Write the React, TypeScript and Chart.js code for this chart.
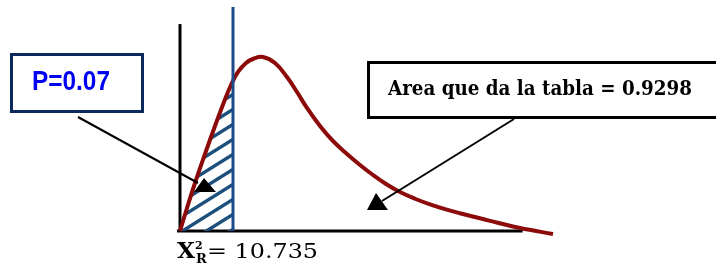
import React, { useEffect, useRef } from "react";
import { Chart, registerables } from "chart.js";

Chart.register(...registerables);

// Chi-square-like density curve (x = statistic, y = density)
const curveX = [0, 1.42, 3.04, 5.06, 7.09, 8.91, 10.33, 11.75, 13.37, 14.99, 16.81, 19.24, 21.67, 23.7, 25.72, 28.36, 30.99, 33.83, 36.46, 39.09, 41.73, 44.56, 47.6, 50.64, 53.68, 56.71, 62.79, 68.87, 75.55];
const curveY = [0, 0.00859, 0.01793, 0.02876, 0.03922, 0.04819, 0.05454, 0.0594, 0.06276, 0.06444, 0.065, 0.06276, 0.05753, 0.05192, 0.04595, 0.03922, 0.03362, 0.02876, 0.02465, 0.02092, 0.01756, 0.01457, 0.01205, 0.00995, 0.00818, 0.00665, 0.00378, 0.00112, -0.00112];

const criticalValue = 10.735;
const criticalLineTop = 0.0837;
const xAxisRange = [-0.6, 69.4];
const yAxisTop = 0.0773;

const xMin = -36.46;
const xMax = 108.57;
const yMin = -0.01457;
const yMax = 0.08629;

const pLabel = "P=0.07";
const areaLabel = "Area que da la tabla = 0.9298";
const statMain = "X";
const statSup = "2";
const statSub = "R";
const statValue = "= 10.735";

function makeHatch(): CanvasPattern | string {
  const c = document.createElement("canvas");
  const w = 24;
  const h = 15;
  c.width = w;
  c.height = h;
  const g = c.getContext("2d");
  if (!g) return "#1c4f7c";
  g.strokeStyle = "#1c4f7c";
  g.lineWidth = 3.4;
  for (const k of [-1, 0, 1]) {
    g.beginPath();
    g.moveTo(-w, 2 * h + h * k);
    g.lineTo(2 * w, -h + h * k);
    g.stroke();
  }
  return g.createPattern(c, "repeat") || "#1c4f7c";
}

function fitText(ctx: CanvasRenderingContext2D, text: string, x: number, y: number, width: number) {
  const m = ctx.measureText(text).width;
  ctx.save();
  ctx.translate(x, y);
  ctx.scale(width / m, 1);
  ctx.fillText(text, 0, 0);
  ctx.restore();
}

const annotations = {
  id: "annotations",
  afterDraw(chart: Chart) {
    const ctx = chart.ctx;
    ctx.save();
    ctx.textBaseline = "alphabetic";
    // P box
    ctx.strokeStyle = "#0b2a5c";
    ctx.lineWidth = 3;
    ctx.strokeRect(11.5, 54.5, 131, 57);
    ctx.fillStyle = "#0000f2";
    ctx.font = 'bold 28px "Liberation Sans"';
    fitText(ctx, pLabel, 32, 90, 78);

    // Area box
    ctx.strokeStyle = "#000";
    ctx.lineWidth = 3;
    ctx.strokeRect(368.5, 62.5, 380, 55);
    ctx.fillStyle = "#000";
    ctx.font = 'bold 20px "DejaVu Serif"';
    fitText(ctx, areaLabel, 388, 95, 304);

    // statistic label
    ctx.font = 'bold 22px "DejaVu Serif"';
    fitText(ctx, statMain, 177, 258, 18);
    ctx.font = 'bold 11px "DejaVu Serif"';
    ctx.fillText(statSup, 195, 249);
    ctx.font = 'bold 13px "DejaVu Serif"';
    ctx.fillText(statSub, 196, 263);
    ctx.font = '21px "DejaVu Serif"';
    fitText(ctx, statValue, 207, 258, 111);

    // arrows
    ctx.strokeStyle = "#000";
    ctx.lineWidth = 2;
    ctx.beginPath();
    ctx.moveTo(78, 117);
    ctx.lineTo(198, 183);
    ctx.moveTo(514, 119);
    ctx.lineTo(382, 201);
    ctx.stroke();
    ctx.beginPath();
    ctx.moveTo(204, 178);
    ctx.lineTo(216, 192);
    ctx.lineTo(194, 192);
    ctx.closePath();
    ctx.moveTo(376, 193);
    ctx.lineTo(388, 210);
    ctx.lineTo(367, 210);
    ctx.closePath();
    ctx.fill();
    ctx.restore();
  },
};

export default function App() {
  const ref = useRef<HTMLCanvasElement | null>(null);
  useEffect(() => {
    if (!ref.current) return;
    const curve = curveX.map((x, i) => ({ x, y: curveY[i] }));
    const hatchPts = curve.filter((p) => p.x <= criticalValue);
    const j = curveX.findIndex((x) => x > criticalValue);
    const t = (criticalValue - curveX[j - 1]) / (curveX[j] - curveX[j - 1]);
    hatchPts.push({ x: criticalValue, y: curveY[j - 1] + t * (curveY[j] - curveY[j - 1]) });
    hatchPts.push({ x: criticalValue, y: 0 });

    const chart = new Chart(ref.current, {
      type: "scatter",
      data: {
        datasets: [
          {
            data: [
              { x: criticalValue, y: 0 },
              { x: criticalValue, y: criticalLineTop },
            ],
            showLine: true,
            borderColor: "#1d4a8a",
            borderWidth: 3,
            pointRadius: 0,
          },
          {
            data: curve,
            showLine: true,
            borderColor: "#8c0a0a",
            borderWidth: 4,
            pointRadius: 0,
            tension: 0.4,
          },
          {
            data: hatchPts,
            showLine: true,
            borderWidth: 0,
            borderColor: "rgba(0,0,0,0)",
            backgroundColor: makeHatch() as any,
            fill: "origin",
            pointRadius: 0,
            tension: 0,
          },
          {
            data: [
              { x: 0, y: 0 },
              { x: 0, y: yAxisTop },
            ],
            showLine: true,
            borderColor: "#000",
            borderWidth: 3,
            pointRadius: 0,
          },
          {
            data: [
              { x: xAxisRange[0], y: 0 },
              { x: xAxisRange[1], y: 0 },
            ],
            showLine: true,
            borderColor: "#000",
            borderWidth: 3,
            pointRadius: 0,
          },
        ],
      },
      options: {
        animation: false,
        responsive: false,
        devicePixelRatio: 1,
        layout: { padding: 0 },
        plugins: { legend: { display: false }, tooltip: { enabled: false } },
        scales: {
          x: { type: "linear", min: xMin, max: xMax, display: false },
          y: { type: "linear", min: yMin, max: yMax, display: false },
        },
      },
      plugins: [annotations],
    });
    return () => chart.destroy();
  }, []);
  return (
    <div style={{ position: "fixed", left: 0, top: 0, width: 716, height: 270, background: "#fff" }}>
      <canvas ref={ref} width={716} height={270} style={{ display: "block" }} />
    </div>
  );
}
